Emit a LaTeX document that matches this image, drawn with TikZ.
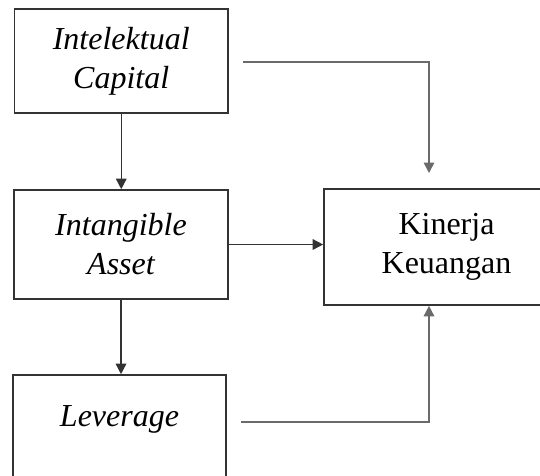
\documentclass[tikz,border=0pt]{standalone}
\usepackage{fontspec}
\setmainfont{Liberation Serif}
\usetikzlibrary{arrows.meta}
\definecolor{boxline}{HTML}{333333}
\definecolor{connline}{HTML}{6A6A6A}
\begin{document}
\begin{tikzpicture}[x=1pt,y=-1pt,
  box/.style={draw=boxline,line width=1.6pt,rectangle,inner sep=0pt,align=center,
    font=\fontsize{32}{39}\selectfont},
  lbl/.style={inner sep=0pt,align=center,font=\fontsize{32}{39}\selectfont},
  darr/.style={draw=boxline,line width=1.5pt,-{Triangle[width=10.5pt,length=10.5pt]}},
  garr/.style={draw=connline,line width=1.5pt,-{Triangle[width=10.5pt,length=10.5pt]}}]
\fill[white] (0,0) rectangle (540,475);
\useasboundingbox (0,0) rectangle (540,475);
\clip (0,0) rectangle (540,475);
\node[box,minimum width=213.5pt,minimum height=104pt] (ic) at (121.25,61) {\itshape Intelektual\\\itshape Capital};
\node[box,minimum width=214pt,minimum height=109pt] (ia) at (121,244.5) {\itshape Intangible\\\itshape Asset};
\node[box,minimum width=213pt,minimum height=120pt] (lv) at (119.5,435) {};
\node[lbl,anchor=base] (lvt) at (119.5,426) {\itshape Leverage};
\node[box,minimum width=245pt,minimum height=116pt] (kk) at (446.5,247) {Kinerja\\Keuangan};
\coordinate (c1s) at (243,62);
\coordinate (c1e) at (429,173);
\coordinate (c3s) at (241,422);
\draw[darr] (ic.south) -- (ic.south |- ia.north);
\draw[darr] (ia.south) -- (ia.south |- lv.north);
\draw[darr] (ia.east) -- (ia.east -| kk.west);
\draw[garr] (c1s) -| (c1e);
\draw[garr] (c3s) -| (kk.south -| c1e);
\end{tikzpicture}
\end{document}
